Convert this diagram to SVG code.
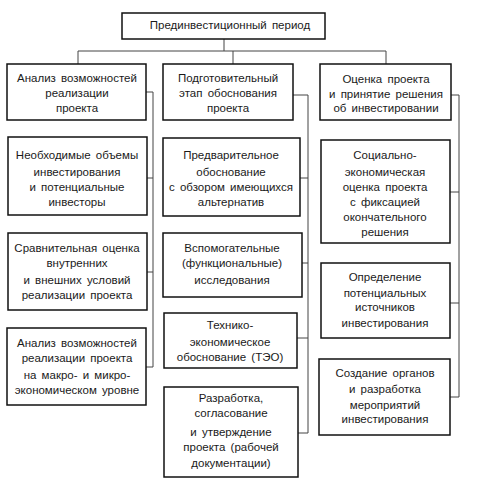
<svg xmlns="http://www.w3.org/2000/svg" width="488" height="490" viewBox="0 0 488 490">
<style>
.b{fill:#fff;stroke:#111;stroke-width:1.5}
.c{fill:none;stroke:#444;stroke-width:1}
text{font-family:"Liberation Sans",Arial,sans-serif;font-size:11.5px;fill:#1a1a1a;text-anchor:middle;word-spacing:2px}
</style>
<rect width="488" height="490" fill="#fff"/>
<g id="connectors">
<path class="c" d="M224 39V51M78 51H386M78 51V64M233 51V64M386 51V64"/>
<path class="c" d="M146 92H153V367H146M147 178H153M147 272H153"/>
<path class="c" d="M293 95H308V433H298M300 178H308M302 263H308M297 338H308"/>
<path class="c" d="M451 95H459V397H450M450 192H459M450 303H459"/>
</g>
<g id="top"><rect class="b" x="122" y="13" width="203" height="26"/><text x="230" y="29">Прединвестиционный период</text></g>
<g id="l1"><rect class="b" x="7" y="64" width="139" height="56"/><text x="77" y="82">Анализ возможностей</text><text x="77" y="97">реализации</text><text x="77" y="112">проекта</text></g>
<g id="m1"><rect class="b" x="163" y="64" width="130" height="56"/><text x="228" y="82">Подготовительный</text><text x="228" y="97">этап обоснования</text><text x="228" y="112">проекта</text></g>
<g id="r1"><rect class="b" x="320" y="64" width="131" height="56"/><text x="386" y="83">Оценка проекта</text><text x="386" y="98">и принятие решения</text><text x="386" y="112">об инвестировании</text></g>
<g id="l2"><rect class="b" x="8" y="137" width="139" height="78"/><text x="77" y="159">Необходимые объемы</text><text x="77" y="176">инвестирования</text><text x="77" y="191">и потенциальные</text><text x="77" y="206">инвесторы</text></g>
<g id="l3"><rect class="b" x="8" y="233" width="139" height="77"/><text x="77" y="252">Сравнительная оценка</text><text x="77" y="267">внутренних</text><text x="77" y="284">и внешних условий</text><text x="77" y="299">реализации проекта</text></g>
<g id="l4"><rect class="b" x="7" y="328" width="139" height="77"/><text x="77" y="347">Анализ возможностей</text><text x="77" y="362">реализации проекта</text><text x="77" y="379">на макро- и микро-</text><text x="77" y="394">экономическом уровне</text></g>
<g id="m2"><rect class="b" x="163" y="138" width="137" height="78"/><text x="231" y="159">Предварительное</text><text x="231" y="176">обоснование</text><text x="231" y="191">с обзором имеющихся</text><text x="231" y="206">альтернатив</text></g>
<g id="m3"><rect class="b" x="163" y="233" width="139" height="64"/><text x="232" y="252">Вспомогательные</text><text x="232" y="267">(функциональные)</text><text x="232" y="284">исследования</text></g>
<g id="m4"><rect class="b" x="164" y="313" width="133" height="55"/><text x="230" y="329">Технико-</text><text x="230" y="346">экономическое</text><text x="230" y="361">обоснование (ТЭО)</text></g>
<g id="m5"><rect class="b" x="164" y="387" width="134" height="90"/><text x="231" y="402">Разработка,</text><text x="231" y="417">согласование</text><text x="231" y="436">и утверждение</text><text x="231" y="451">проекта (рабочей</text><text x="231" y="467">документации)</text></g>
<g id="r2"><rect class="b" x="321" y="140" width="129" height="103"/><text x="385" y="159">Социально-</text><text x="385" y="176">экономическая</text><text x="385" y="191">оценка проекта</text><text x="385" y="206">с фиксацией</text><text x="385" y="221">окончательного</text><text x="385" y="236">решения</text></g>
<g id="r3"><rect class="b" x="321" y="263" width="129" height="75"/><text x="385" y="281">Определение</text><text x="385" y="297">потенциальных</text><text x="385" y="311">источников</text><text x="385" y="327">инвестирования</text></g>
<g id="r4"><rect class="b" x="319" y="359" width="131" height="76"/><text x="385" y="377">Создание органов</text><text x="385" y="393">и разработка</text><text x="385" y="409">мероприятий</text><text x="385" y="423">инвестирования</text></g>
</svg>
